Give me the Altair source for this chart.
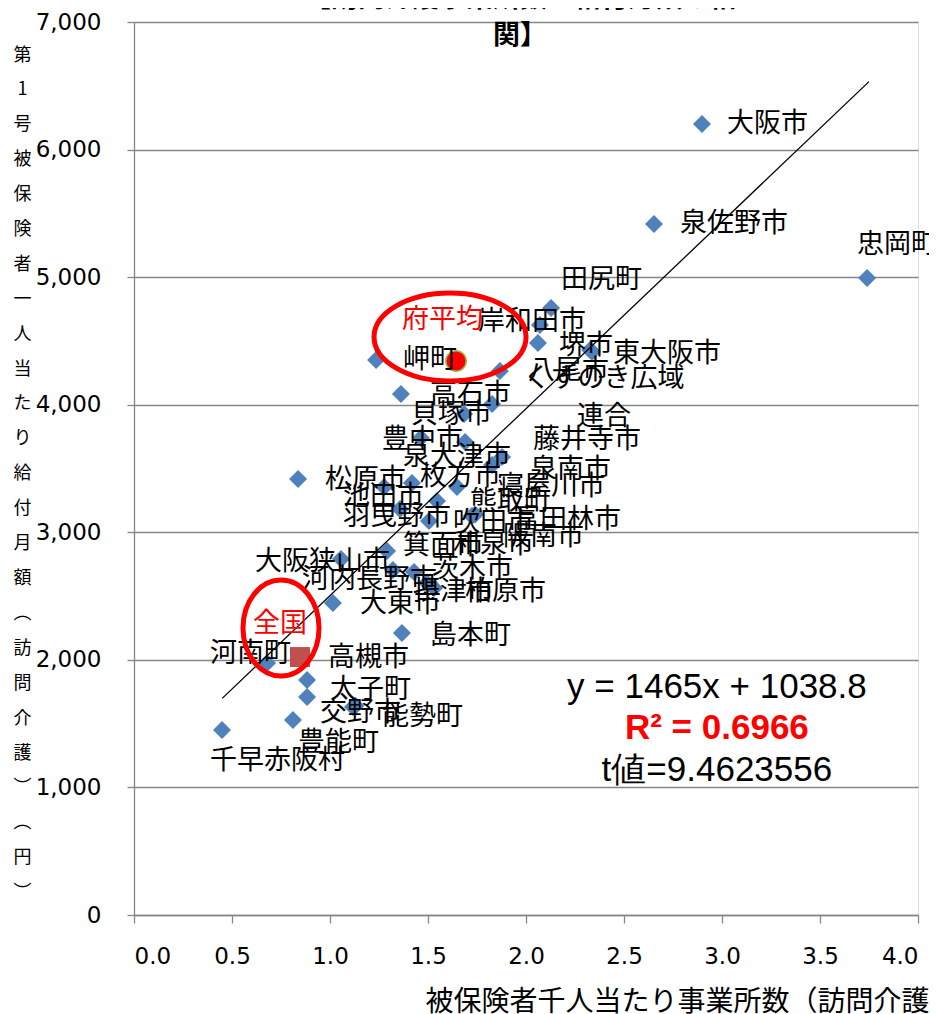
import altair as alt
import pandas as pd

# ---------------- data ----------------
names = ["大阪市", "泉佐野市", "忠岡町", "田尻町", "岸和田市", "岬町", "堺市", "東大阪市",
         "八尾市", "くすのき広域\n連合", "高石市", "貝塚市", "藤井寺市", "豊中市", "泉大津市",
         "泉南市", "松原市", "枚方市", "寝屋川市", "池田市", "熊取町", "羽曳野市", "吹田市",
         "富田林市", "阪南市", "和泉市", "箕面市", "大阪狭山市", "河内長野市", "茨木市",
         "大東市", "摂津市", "柏原市", "島本町", "河南町", "高槻市", "太子町", "交野市",
         "能勢町", "豊能町", "千早赤阪村"]
x_vals = [2.898, 2.653, 3.740, 2.128, 2.071, 1.235, 2.061, 2.327,
          1.867, 2.337, 1.362, 1.684, 1.827, 1.464, 1.689,
          1.878, 0.837, 1.648, 1.827, 1.276, 1.546, 1.357, 1.505,
          1.724, 1.740, 1.418, 1.291, 1.056, 1.321, 1.429,
          1.015, 1.495, 1.531, 1.367, 0.679, 0.883, 0.883, 1.117,
          1.130, 0.811, 0.449]
y_vals = [6201, 5417, 4993, 4758, 4625, 4351, 4484, 4429,
          4264, 4415, 4084, 3927, 4006, 3739, 3708,
          3590, 3418, 3355, 3527, 3355, 3245, 3183, 3088,
          3128, 3140, 3386, 2853, 2791, 2704, 2689,
          2446, 2602, 2563, 2211, 1975, 1842, 1709, 1630,
          1640, 1529, 1450]
label_x = [3.026, 2.786, 3.689, 2.179, 1.755, 1.372, 2.168, 2.444,
           2.010, 2.398, 1.510, 1.413, 2.036, 1.265, 1.372,
           2.020, 0.974, 1.459, 1.852, 1.066, 1.714, 1.066, 1.627,
           1.934, 1.883, 1.627, 1.372, 0.617, 0.857, 1.520,
           1.153, 1.423, 1.689, 1.510, 0.388, 0.990, 1.000, 0.949,
           1.265, 0.837, 0.388]
label_y = [6201, 5417, 5252, 4978, 4648, 4351, 4460, 4398,
           4264, 4202, 4076, 3919, 3723, 3723, 3590,
           3489, 3410, 3433, 3355, 3277, 3237, 3120, 3073,
           3096, 2963, 2900, 2893, 2767, 2626, 2712,
           2438, 2532, 2532, 2187, 2046, 2015, 1764, 1583,
           1552, 1348, 1207]

ref_names = ["府平均", "全国"]
ref_x = [1.643, 0.847]
ref_y = [4343, 2022]
ref_label_x = [1.367, 0.607]
ref_label_y = [4664, 2281]

slope = 1465
intercept = 1038.8
trend_x = [0.45, 3.75]

stats_text = ["y = 1465x + 1038.8", "R² = 0.6966", "t値=9.4623556"]
stats_x = [2.974, 2.974, 2.974]
stats_y = [1787, 1466, 1137]

title_text = "【訪問介護事業所数と給付月額の相\n関】"
title_x = [1.97]
title_y = [7180]

x_ticks = [0.0, 0.5, 1.0, 1.5, 2.0, 2.5, 3.0, 3.5, 4.0]
y_ticks = [0, 1000, 2000, 3000, 4000, 5000, 6000, 7000]

x_title = "被保険者千人当たり事業所数（訪問介護）"
y_title = ["第", "1", "号", "被", "保", "険", "者", "一", "人", "当", "た", "り", "給", "付",
           "月", "額", "︵", "訪", "問", "介", "護", "︶", "︵", "円", "︶"]

# ---------------- tables ----------------
pts = pd.DataFrame({"name": names, "x": x_vals, "y": y_vals})
lbl = pd.DataFrame({"name": names, "x": label_x, "y": label_y})
lbl["multi"] = lbl["name"].str.contains("\n")
ref = pd.DataFrame({"name": ref_names, "x": ref_x, "y": ref_y})
ref_lbl = pd.DataFrame({"name": ref_names, "x": ref_label_x, "y": ref_label_y})
trend = pd.DataFrame({"x": trend_x, "y": [slope * v + intercept for v in trend_x]})
stats = pd.DataFrame({"t": stats_text, "x": stats_x, "y": stats_y, "k": [0, 1, 2]})
ttl = pd.DataFrame({"t": [title_text], "x": title_x, "y": title_y})

CJK = "Noto Sans CJK JP"
GRAY = "#868686"

x_axis = alt.Axis(values=x_ticks, format=".1f", grid=False, domainColor=GRAY, domainWidth=1.3,
                  tickColor=GRAY, tickSize=8, tickWidth=1.3, labelFont="DejaVu Sans",
                  labelFontSize=23, labelColor="#000", labelPadding=22,
                  title=x_title, titleFont=CJK, titleFontSize=28, titleFontWeight="normal",
                  titleColor="#000", titleAlign="left", titleAnchor="start", titleX=291,
                  titleY=87, titleBaseline="middle")
y_axis = alt.Axis(values=y_ticks, format=",.0f", grid=True, gridColor=GRAY, gridWidth=1.3,
                  domainColor=GRAY, domainWidth=1.3, tickColor=GRAY, tickSize=7, tickWidth=1.3,
                  labelFont="DejaVu Sans", labelFontSize=23, labelColor="#000", labelPadding=26,
                  title=y_title, titleAngle=0, titleFont=CJK, titleFontSize=18,
                  titleFontWeight="normal", titleColor="#000", titleLineHeight=34.9,
                  titleX=-112, titleY=24, titleAlign="center", titleBaseline="top")

X = alt.X("x:Q", scale=alt.Scale(domain=[0, 4], nice=False), axis=x_axis)
Y = alt.Y("y:Q", scale=alt.Scale(domain=[0, 7000], nice=False), axis=y_axis)

diamonds = alt.Chart(pts).mark_point(shape="diamond", filled=True, size=324,
                                     color="#4F81BD", opacity=1).encode(x=X, y=Y)

square = alt.Chart(ref[ref["name"] == "全国"]).mark_point(
    shape="square", filled=True, size=400, color="#C0504D", opacity=1).encode(x=X, y=Y)
circle = alt.Chart(ref[ref["name"] == "府平均"]).mark_point(
    shape="circle", filled=True, size=420, fill="#FF0000", stroke="#9BBB59",
    strokeWidth=1.5, opacity=1).encode(x=X, y=Y)

line = alt.Chart(trend).mark_line(color="#000", strokeWidth=1.3).encode(x=X, y=Y)

labels = alt.Chart(lbl[~lbl["multi"]]).mark_text(
    font=CJK, fontSize=27, align="left", baseline="middle", color="#000").encode(
    x=X, y=Y, text="name:N")
labels_multi = alt.Chart(lbl[lbl["multi"]]).mark_text(
    font=CJK, fontSize=27, align="center", baseline="middle", color="#000",
    lineBreak="\n", lineHeight=38).encode(x=X, y=Y, text="name:N")

ell1 = alt.Chart(ref[ref["name"] == "府平均"]).mark_point(
    shape="M -1 0 A 1 0.579 0 1 0 1 0 A 1 0.579 0 1 0 -1 0 Z", filled=False, size=23104,
    stroke="#FF0000", strokeWidth=5, opacity=1, xOffset=-6, yOffset=-24).encode(x=X, y=Y)
ell2 = alt.Chart(ref[ref["name"] == "全国"]).mark_point(
    shape="M -0.792 0 A 0.792 1 0 1 0 0.792 0 A 0.792 1 0 1 0 -0.792 0 Z", filled=False,
    size=9216, stroke="#FF0000", strokeWidth=5, opacity=1, xOffset=-19, yOffset=-29).encode(x=X, y=Y)

ref_labels = alt.Chart(ref_lbl).mark_text(font=CJK, fontSize=27, align="left",
                                          baseline="middle", color="#FF0000").encode(
    x=X, y=Y, text="name:N")

stat_plain = alt.Chart(stats).transform_filter("datum.k != 1").mark_text(
    font="Liberation Sans", fontSize=35, align="center", baseline="middle",
    color="#000").encode(x=X, y=Y, text="t:N")
stat_bold = alt.Chart(stats).transform_filter("datum.k == 1").mark_text(
    font="Liberation Sans", fontSize=35, align="center", baseline="middle",
    color="#FF0000", fontWeight="bold").encode(x=X, y=Y, text="t:N")

title = alt.Chart(ttl).mark_text(font=CJK, fontSize=27, fontWeight="bold", align="center",
                                 baseline="middle", color="#000", lineBreak="\n",
                                 lineHeight=37).encode(x=X, y=Y, text="t:N")

chart = alt.layer(diamonds, square, circle, line, labels, labels_multi, ell1, ell2,
                  ref_labels, stat_plain, stat_bold, title).properties(
    width=784, height=893,
    autosize=alt.AutoSizeParams(type="none"),
    padding={"left": 126, "top": 14, "right": 11, "bottom": 100},
).configure_view(stroke=None).configure(background="white")

chart.save("out.html", embed_options={"renderer": "svg", "actions": False})
